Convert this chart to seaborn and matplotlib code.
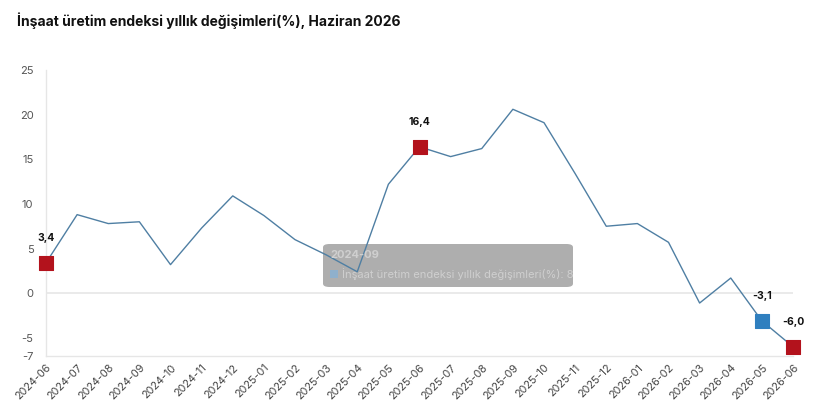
import matplotlib
matplotlib.use("Agg")
import matplotlib.pyplot as plt
import seaborn as sns
import pandas as pd
from matplotlib.patches import FancyBboxPatch, Rectangle

months = ["2024-06", "2024-07", "2024-08", "2024-09", "2024-10", "2024-11", "2024-12",
          "2025-01", "2025-02", "2025-03", "2025-04", "2025-05", "2025-06", "2025-07",
          "2025-08", "2025-09", "2025-10", "2025-11", "2025-12", "2026-01", "2026-02",
          "2026-03", "2026-04", "2026-05", "2026-06"]
values = [3.4, 8.8, 7.8, 8.0, 3.2, 7.3, 10.9, 8.7, 6.0, 4.3, 2.4, 12.2, 16.4, 15.3,
          16.2, 20.6, 19.1, 13.4, 7.5, 7.8, 5.7, -1.1, 1.7, -3.1, -6.0]
red_points = ["2024-06", "2025-06", "2026-06"]
blue_points = ["2026-05"]
y_ticks = [25, 20, 15, 10, 5, 0, -5, -7]
title = "İnşaat üretim endeksi yıllık değişimleri(%), Haziran 2026"
series_name = "İnşaat üretim endeksi yıllık değişimleri(%)"
tooltip_month = "2024-09"
tooltip_value = "8"

sns.set_theme(style="white")
plt.rcParams["font.family"] = ["Inter", "DejaVu Sans"]

df = pd.DataFrame({"month": months, "value": values})
df["x"] = range(len(df))

fig = plt.figure(figsize=(8.2, 4.17), dpi=100)
ax = fig.add_axes([46 / 820, 1 - 355.7 / 417, (793 - 46) / 820, (355.7 - 70) / 417])

sns.lineplot(data=df, x="x", y="value", ax=ax, color="#4f7fa3", linewidth=1.0, zorder=3)

red_df = df[df["month"].isin(red_points)]
blue_df = df[df["month"].isin(blue_points)]
sns.scatterplot(data=red_df, x="x", y="value", ax=ax, marker="s", s=95, color="#b3121c",
                edgecolor="#b3121c", zorder=4)
sns.scatterplot(data=blue_df, x="x", y="value", ax=ax, marker="s", s=95, color="#2f7fbf",
                edgecolor="#2f7fbf", zorder=4)
for c in ax.collections:
    c.set_clip_on(False)
for _, r in pd.concat([red_df, blue_df]).iterrows():
    ax.annotate(f"{r['value']:.1f}".replace(".", ","), (r["x"], r["value"]),
                xytext=(0, 14), textcoords="offset points", ha="center", va="bottom",
                fontsize=7.5, fontweight="bold", color="#111111")

ax.set_xlim(0, len(months) - 1)
ax.set_ylim(-7, 25)
ax.set_yticks(y_ticks)
ax.set_yticklabels([str(t) for t in y_ticks], fontsize=8, color="#555555")
ax.set_xticks(df["x"])
ax.set_xticklabels(months, rotation=45, ha="right", rotation_mode="anchor",
                   fontsize=7.8, color="#444444")
ax.tick_params(axis="x", pad=5, length=0)
ax.tick_params(axis="y", pad=9, length=0)
ax.set_xlabel("")
ax.set_ylabel("")
ax.axhline(0, color="#e6e6e6", linewidth=1.2, zorder=1)
for s in ["top", "right"]:
    ax.spines[s].set_visible(False)
for s in ["left", "bottom"]:
    ax.spines[s].set_color("#e6e6e6")
    ax.spines[s].set_linewidth(1.0)

fig.text(17 / 820, 1 - 21 / 417, title, fontsize=10, fontweight="bold",
         color="#111111", va="center", ha="left")

# tooltip overlay
box = FancyBboxPatch((323 / 820, 1 - 287 / 417), 250 / 820, 43 / 417,
                     boxstyle="round,pad=0,rounding_size=0.008",
                     transform=fig.transFigure, facecolor="#9a9a9a", alpha=0.8,
                     edgecolor="none", zorder=2)
box.set_clip_on(False)
ax.add_artist(box)
fig.text(330 / 820, 1 - 255 / 417, tooltip_month, fontsize=8, fontweight="bold",
         color="#cfcfcf", va="center", ha="left", zorder=2)
sq = Rectangle((330 / 820, 1 - 278 / 417), 8 / 820, 8 / 417, transform=fig.transFigure,
               facecolor="#8fb0cc", edgecolor="none", zorder=5)
fig.add_artist(sq)
fig.text(342 / 820, 1 - 274 / 417, f"{series_name}: {tooltip_value}", fontsize=8,
         color="#cfcfcf", va="center", ha="left", zorder=2)

fig.savefig("out.png", dpi=100, facecolor="white")
